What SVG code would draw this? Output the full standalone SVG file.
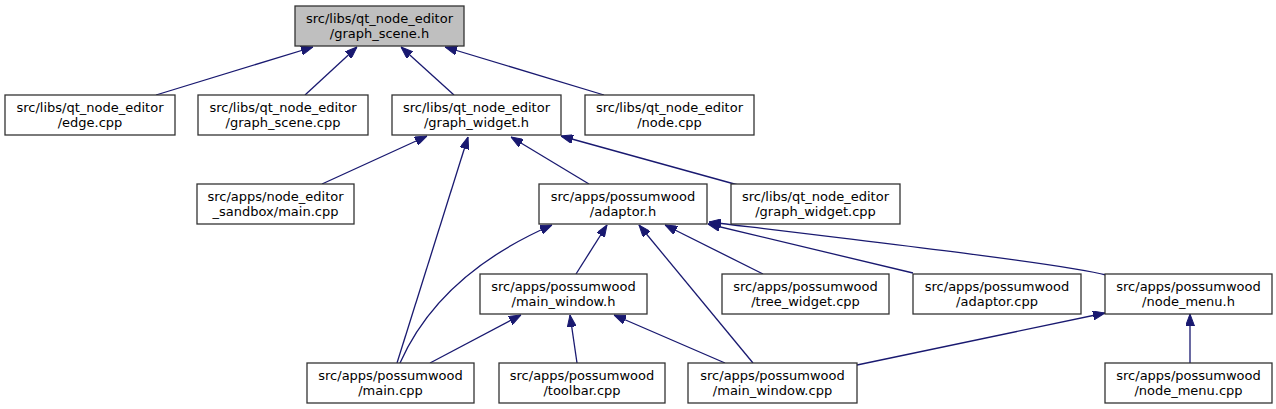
<svg xmlns="http://www.w3.org/2000/svg" width="1276" height="409" viewBox="0 0 1276 409">
<style>
.n rect{fill:#ffffff;stroke:#333333;stroke-width:1.3}
.root rect{fill:#bfbfbf}
.n text{font-family:"DejaVu Sans",sans-serif;font-size:13px;fill:#000000;text-anchor:middle}
.e path{fill:none;stroke:#191970;stroke-width:1.3}
</style>
<defs>
<marker id="ah" viewBox="0 0 12 9" refX="12" refY="4.5" markerWidth="12" markerHeight="9" markerUnits="userSpaceOnUse" orient="auto">
<path d="M0,0 L12,4.5 L0,9 z" fill="#191970" stroke="#191970" stroke-width="1"/>
</marker>
</defs>
<rect width="1276" height="409" fill="#ffffff"/>
<g id="connectors" class="e">
<path d="M156,95 L313,47" marker-end="url(#ah)"/>
<path d="M305,95 L357,47" marker-end="url(#ah)"/>
<path d="M454,95 L401,47" marker-end="url(#ah)"/>
<path d="M604,95 L445,47" marker-end="url(#ah)"/>
<path d="M322,184 L427,136" marker-end="url(#ah)"/>
<path d="M397,363 L468,137" marker-end="url(#ah)"/>
<path d="M589,184 L511,137" marker-end="url(#ah)"/>
<path d="M738,185 L561,136" marker-end="url(#ah)"/>
<path d="M400,363 C420,318 460,265 552,225" marker-end="url(#ah)"/>
<path d="M576,274 L607,225" marker-end="url(#ah)"/>
<path d="M753,363 L639,225" marker-end="url(#ah)"/>
<path d="M763,274 L665,225" marker-end="url(#ah)"/>
<path d="M913,273 L708,224" marker-end="url(#ah)"/>
<path d="M1106,275 C1070,265 900,245 709,222" marker-end="url(#ah)"/>
<path d="M430,363 L521,315" marker-end="url(#ah)"/>
<path d="M577,363 L570,315" marker-end="url(#ah)"/>
<path d="M725,363 L614,315" marker-end="url(#ah)"/>
<path d="M857,365 L1105,313" marker-end="url(#ah)"/>
<path d="M1190,363 L1190,314" marker-end="url(#ah)"/>
</g>
<g id="node-graph_scene_h" class="n root"><rect x="295" y="6" width="169" height="40"/><text x="379.5" y="22.5">src/libs/qt_node_editor</text><text x="379.5" y="37.5">/graph_scene.h</text></g>
<g id="node-edge_cpp" class="n"><rect x="5" y="95" width="170" height="40"/><text x="90" y="111.5">src/libs/qt_node_editor</text><text x="90" y="126.5">/edge.cpp</text></g>
<g id="node-graph_scene_cpp" class="n"><rect x="198" y="95" width="170" height="40"/><text x="283" y="111.5">src/libs/qt_node_editor</text><text x="283" y="126.5">/graph_scene.cpp</text></g>
<g id="node-graph_widget_h" class="n"><rect x="392" y="95" width="169" height="40"/><text x="476.5" y="111.5">src/libs/qt_node_editor</text><text x="476.5" y="126.5">/graph_widget.h</text></g>
<g id="node-node_cpp" class="n"><rect x="585" y="95" width="169" height="40"/><text x="669.5" y="111.5">src/libs/qt_node_editor</text><text x="669.5" y="126.5">/node.cpp</text></g>
<g id="node-sandbox_main_cpp" class="n"><rect x="197" y="184" width="157" height="40"/><text x="275.5" y="200.5">src/apps/node_editor</text><text x="275.5" y="215.5">_sandbox/main.cpp</text></g>
<g id="node-adaptor_h" class="n"><rect x="539" y="184" width="168" height="40"/><text x="623" y="200.5">src/apps/possumwood</text><text x="623" y="215.5">/adaptor.h</text></g>
<g id="node-graph_widget_cpp" class="n"><rect x="731" y="184" width="169" height="40"/><text x="815.5" y="200.5">src/libs/qt_node_editor</text><text x="815.5" y="215.5">/graph_widget.cpp</text></g>
<g id="node-main_window_h" class="n"><rect x="480" y="274" width="167" height="40"/><text x="563.5" y="290.5">src/apps/possumwood</text><text x="563.5" y="305.5">/main_window.h</text></g>
<g id="node-tree_widget_cpp" class="n"><rect x="722" y="274" width="167" height="40"/><text x="805.5" y="290.5">src/apps/possumwood</text><text x="805.5" y="305.5">/tree_widget.cpp</text></g>
<g id="node-adaptor_cpp" class="n"><rect x="913" y="274" width="168" height="40"/><text x="997" y="290.5">src/apps/possumwood</text><text x="997" y="305.5">/adaptor.cpp</text></g>
<g id="node-node_menu_h" class="n"><rect x="1105" y="274" width="167" height="40"/><text x="1188.5" y="290.5">src/apps/possumwood</text><text x="1188.5" y="305.5">/node_menu.h</text></g>
<g id="node-main_cpp" class="n"><rect x="307" y="363" width="167" height="40"/><text x="390.5" y="379.5">src/apps/possumwood</text><text x="390.5" y="394.5">/main.cpp</text></g>
<g id="node-toolbar_cpp" class="n"><rect x="499" y="363" width="166" height="40"/><text x="582" y="379.5">src/apps/possumwood</text><text x="582" y="394.5">/toolbar.cpp</text></g>
<g id="node-main_window_cpp" class="n"><rect x="688" y="363" width="169" height="40"/><text x="772.5" y="379.5">src/apps/possumwood</text><text x="772.5" y="394.5">/main_window.cpp</text></g>
<g id="node-node_menu_cpp" class="n"><rect x="1105" y="363" width="167" height="40"/><text x="1188.5" y="379.5">src/apps/possumwood</text><text x="1188.5" y="394.5">/node_menu.cpp</text></g>
</svg>
